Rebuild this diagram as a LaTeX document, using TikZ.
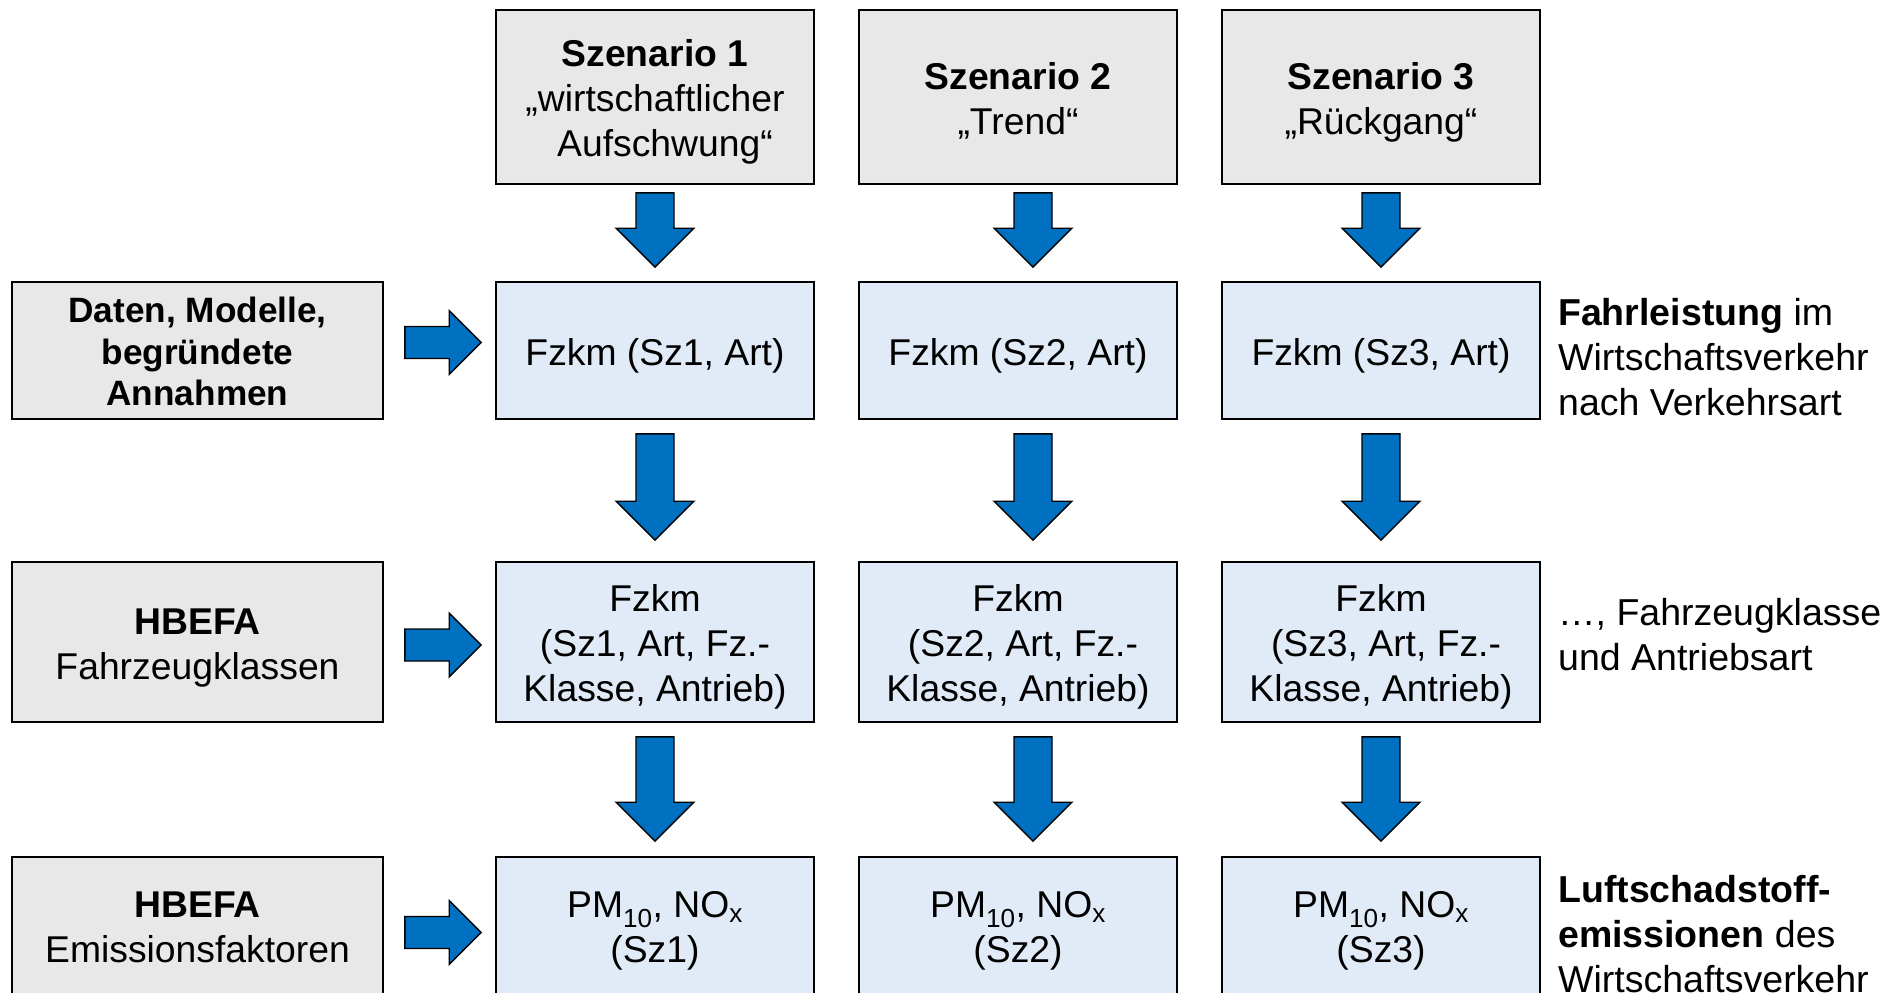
\documentclass[tikz,border=0pt]{standalone}
\usepackage{fontspec}
\setmainfont{Liberation Sans}[Ligatures={TeX,NoCommon}]
\usetikzlibrary{calc}
\definecolor{boxgray}{HTML}{E8E8E8}
\definecolor{boxblue}{HTML}{E1EBF7}
\definecolor{arrowblue}{HTML}{0070C0}
\newcommand{\boxstrut}{\rule[-0.22em]{0pt}{1.0em}}
\newcommand{\ts}{\rule{0pt}{1.0em}}
\tikzset{
  base/.style={draw=black, line width=1.6pt, align=center, inner sep=0pt,
    font=\fontsize{37.3}{45}\selectfont, text=black,
    execute at end node=\boxstrut},
  graybox/.style={base, fill=boxgray},
  bluebox/.style={base, fill=boxblue},
  colbox/.style={minimum width=318pt},
  leftbox/.style={minimum width=371pt},
  note/.style={anchor=west, align=left, inner sep=0pt,
    font=\fontsize{37.5}{45}\selectfont, text=black},
  blk/.style={draw=black, line width=1.4pt, fill=arrowblue, line join=miter},
}
% down block arrow: from, to, xshift, top gap, bottom gap
\newcommand{\downarr}[5]{%
  \draw[blk] let \p1=($(#1.south)+(#3pt,-#4pt)$), \p2=($(#2.north)+(#3pt,#5pt)$) in
    (\x1-19pt,\y1) -- (\x1+19pt,\y1) -- (\x1+19pt,\y2+39pt) -- (\x1+39pt,\y2+39pt)
    -- (\x1,\y2) -- (\x1-39pt,\y2+39pt) -- (\x1-19pt,\y2+39pt) -- cycle;}
% right block arrow: from, to, yshift
\newcommand{\rightarr}[3]{%
  \draw[blk] let \p1=($(#1.east)+(21pt,#3pt)$), \p2=($(#2.west)+(-14pt,#3pt)$) in
    (\x1,\y1+16pt) -- (\x2-32pt,\y1+16pt) -- (\x2-32pt,\y1+32pt) -- (\x2,\y1)
    -- (\x2-32pt,\y1-32pt) -- (\x2-32pt,\y1-16pt) -- (\x1,\y1-16pt) -- cycle;}
\begin{document}
\begin{tikzpicture}[x=1pt,y=-1pt]
\useasboundingbox (0,0) rectangle (1901,993);
\clip (0,0) rectangle (1901,993);
\fill[white] (0,0) rectangle (1901,993);

% scenario row
\node[graybox, colbox, minimum height=174pt] (s1) at (655,97)
  {\ts\textbf{Szenario 1}\\„wirtschaftlicher\\\hspace*{20pt}Aufschwung“};
\node[graybox, colbox, minimum height=174pt] (s2) at (1018,97)
  {\ts\textbf{Szenario 2}\\„Trend“};
\node[graybox, colbox, minimum height=174pt] (s3) at (1381,97)
  {\ts\textbf{Szenario 3}\\„Rückgang“};

% row 2
\node[graybox, leftbox, minimum height=137pt,
  font=\fontsize{35.2}{41.5}\selectfont\bfseries] (l2) at (197.5,350.5)
  {\ts Daten, Modelle,\\begründete\\Annahmen};
\node[bluebox, colbox, minimum height=137pt] (a1) at (655,350.5) {\ts Fzkm (Sz1, Art)};
\node[bluebox, colbox, minimum height=137pt] (a2) at (1018,350.5) {\ts Fzkm (Sz2, Art)};
\node[bluebox, colbox, minimum height=137pt] (a3) at (1381,350.5) {\ts Fzkm (Sz3, Art)};
\node[note] (n2) at (1558,357)
  {\textbf{Fahrleistung} im\\Wirtschaftsverkehr\\nach Verkehrsart};

% row 3
\node[graybox, leftbox, minimum height=160pt] (l3) at (197.5,642)
  {\ts\textbf{HBEFA}\\Fahrzeugklassen};
\node[bluebox, colbox, minimum height=160pt] (b1) at (655,642)
  {\ts Fzkm\\(Sz1, Art, Fz.-\\Klasse, Antrieb)};
\node[bluebox, colbox, minimum height=160pt] (b2) at (1018,642)
  {\ts Fzkm\\\hspace*{10pt}(Sz2, Art, Fz.-\\Klasse, Antrieb)};
\node[bluebox, colbox, minimum height=160pt] (b3) at (1381,642)
  {\ts Fzkm\\\hspace*{10pt}(Sz3, Art, Fz.-\\Klasse, Antrieb)};
\node[note] (n3) at (1558,634.5)
  {…, Fahrzeugklasse\\und Antriebsart};

% row 4
\node[graybox, leftbox, minimum height=137pt] (l4) at (197.5,925.5)
  {\ts\textbf{HBEFA}\\Emissionsfaktoren};
\node[bluebox, colbox, minimum height=137pt] (c1) at (655,925.5)
  {\ts PM\textsubscript{10}, NO\textsubscript{x}\\(Sz1)};
\node[bluebox, colbox, minimum height=137pt] (c2) at (1018,925.5)
  {\ts PM\textsubscript{10}, NO\textsubscript{x}\\(Sz2)};
\node[bluebox, colbox, minimum height=137pt] (c3) at (1381,925.5)
  {\ts PM\textsubscript{10}, NO\textsubscript{x}\\(Sz3)};
\node[note] (n4) at (1558,934.5)
  {\textbf{Luftschadstoff-}\\\textbf{emissionen} des\\Wirtschaftsverkehr};

% down arrows
\downarr{s1}{a1}{0}{8}{14}
\downarr{s2}{a2}{15}{8}{14}
\downarr{s3}{a3}{0}{8}{14}
\downarr{a1}{b1}{0}{14}{21}
\downarr{a2}{b2}{15}{14}{21}
\downarr{a3}{b3}{0}{14}{21}
\downarr{b1}{c1}{0}{14}{15}
\downarr{b2}{c2}{15}{14}{15}
\downarr{b3}{c3}{0}{14}{15}

% right arrows
\rightarr{l2}{a1}{8}
\rightarr{l3}{b1}{-3}
\rightarr{l4}{c1}{-7}
\end{tikzpicture}
\end{document}
